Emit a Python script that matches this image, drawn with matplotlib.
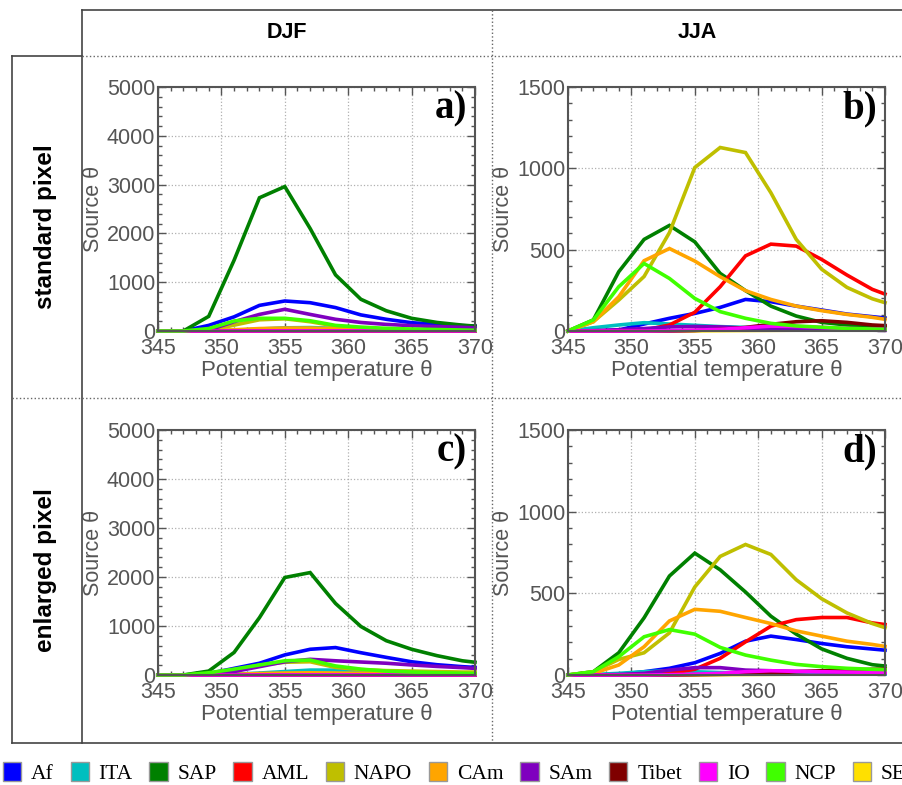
import matplotlib
matplotlib.use("Agg")
import matplotlib.pyplot as plt
from matplotlib.lines import Line2D
from matplotlib.patches import Patch
from matplotlib.ticker import MultipleLocator

# potential temperature grid (K)
theta = [345, 347, 349, 351, 353, 355, 357, 359, 361, 363, 365, 367, 369, 370]

regions = ["Af", "ITA", "SAP", "AML", "NAPO", "CAm", "SAm", "Tibet", "IO", "NCP", "SEP"]
colors = ["#0000ff", "#00bfbf", "#008000", "#ff0000", "#bfbf00", "#ffa500",
          "#7f00bf", "#7f0000", "#ff00ff", "#40ff00", "#ffe000"]

# a) DJF, standard pixel
djf_std = {
    "Af":    [0, 0, 115, 290, 525, 615, 580, 480, 330, 240, 170, 135, 110, 100],
    "ITA":   [0, 0, 5, 15, 40, 65, 70, 55, 40, 30, 20, 15, 10, 8],
    "SAP":   [0, 0, 300, 1450, 2730, 2960, 2100, 1150, 650, 415, 260, 175, 120, 100],
    "AML":   [0, 0, 0, 0, 3, 5, 8, 10, 10, 10, 8, 6, 5, 4],
    "NAPO":  [0, 0, 10, 120, 230, 250, 190, 100, 60, 40, 30, 20, 15, 12],
    "CAm":   [0, 0, 5, 25, 50, 60, 60, 45, 30, 20, 15, 10, 8, 6],
    "SAm":   [0, 0, 20, 190, 340, 445, 340, 240, 175, 135, 110, 90, 75, 65],
    "Tibet": [0, 0, 0, 0, 0, 0, 0, 0, 0, 0, 0, 0, 0, 0],
    "IO":    [0, 0, 0, 0, 0, 1, 2, 2, 2, 2, 1, 1, 1, 1],
    "NCP":   [0, 0, 50, 205, 260, 260, 210, 115, 80, 55, 40, 30, 20, 15],
    "SEP":   [0, 0, 0, 0, 0, 0, 0, 0, 0, 0, 0, 0, 0, 0],
}

# b) JJA, standard pixel
jja_std = {
    "Af":    [0, 0, 6, 43, 78, 108, 145, 194, 180, 153, 129, 104, 88, 80],
    "ITA":   [0, 20, 37, 51, 43, 35, 27, 22, 18, 15, 12, 10, 8, 7],
    "SAP":   [0, 68, 364, 563, 649, 548, 354, 248, 153, 92, 53, 37, 27, 25],
    "AML":   [0, 0, 0, 5, 37, 115, 272, 462, 534, 522, 440, 344, 256, 227],
    "NAPO":  [0, 57, 190, 335, 605, 1005, 1128, 1097, 850, 563, 380, 268, 198, 174],
    "CAm":   [0, 57, 210, 432, 507, 430, 334, 248, 194, 153, 125, 102, 84, 72],
    "SAm":   [0, 2, 8, 15, 25, 28, 25, 18, 12, 10, 8, 6, 5, 4],
    "Tibet": [0, 0, 0, 0, 0, 3, 10, 22, 41, 57, 63, 53, 37, 33],
    "IO":    [0, 0, 0, 0, 2, 5, 10, 20, 30, 28, 22, 16, 12, 10],
    "NCP":   [0, 68, 272, 415, 323, 200, 119, 78, 47, 31, 23, 16, 12, 10],
    "SEP":   [0, 0, 0, 0, 0, 1, 2, 3, 4, 5, 5, 5, 5, 5],
}

# c) DJF, enlarged pixel
djf_enl = {
    "Af":    [0, 0, 30, 135, 240, 410, 525, 560, 455, 360, 270, 210, 170, 155],
    "ITA":   [0, 0, 5, 15, 40, 70, 100, 100, 70, 50, 35, 25, 20, 15],
    "SAP":   [0, 0, 80, 460, 1170, 1990, 2090, 1460, 990, 700, 525, 395, 290, 260],
    "AML":   [0, 0, 0, 0, 2, 4, 5, 5, 5, 5, 4, 4, 3, 3],
    "NAPO":  [0, 0, 20, 100, 200, 260, 270, 155, 110, 90, 80, 70, 60, 60],
    "CAm":   [0, 0, 5, 15, 30, 40, 45, 40, 35, 30, 25, 20, 15, 12],
    "SAm":   [0, 0, 10, 70, 170, 270, 320, 290, 265, 240, 205, 175, 150, 135],
    "Tibet": [0, 0, 0, 0, 0, 0, 0, 0, 0, 0, 0, 0, 0, 0],
    "IO":    [0, 0, 0, 0, 0, 1, 1, 1, 1, 1, 1, 1, 1, 1],
    "NCP":   [0, 0, 45, 120, 205, 290, 305, 185, 120, 80, 60, 45, 35, 30],
    "SEP":   [0, 0, 0, 0, 0, 0, 0, 0, 0, 0, 0, 0, 0, 0],
}

# d) JJA, enlarged pixel
jja_enl = {
    "Af":    [0, 0, 4, 20, 41, 75, 132, 207, 238, 217, 193, 173, 159, 152],
    "ITA":   [0, 3, 10, 20, 26, 20, 15, 12, 10, 8, 7, 6, 5, 5],
    "SAP":   [0, 20, 136, 350, 606, 746, 644, 508, 360, 250, 160, 102, 63, 55],
    "AML":   [0, 0, 0, 4, 10, 35, 102, 203, 299, 339, 352, 352, 319, 309],
    "NAPO":  [0, 20, 95, 136, 258, 539, 726, 799, 738, 583, 467, 380, 315, 290],
    "CAm":   [0, 10, 61, 173, 331, 402, 390, 352, 315, 270, 238, 207, 187, 175],
    "SAm":   [0, 0, 3, 10, 30, 45, 45, 30, 26, 22, 20, 18, 15, 13],
    "Tibet": [0, 0, 0, 0, 0, 2, 4, 6, 10, 20, 26, 30, 35, 37],
    "IO":    [0, 0, 0, 0, 2, 5, 10, 20, 26, 22, 20, 18, 16, 15],
    "NCP":   [0, 20, 112, 234, 278, 250, 169, 122, 91, 65, 51, 41, 35, 33],
    "SEP":   [0, 0, 0, 0, 0, 1, 2, 3, 4, 5, 5, 5, 5, 5],
}

W, H = 902, 785
grey = "#555555"
sans = "Liberation Sans"
serif = "Liberation Serif"

fig = plt.figure(figsize=(W / 100, H / 100), dpi=100)


def px_axes(x0, y0, x1, y1):
    # pixel box (top-left origin) -> figure fraction
    return fig.add_axes([x0 / W, 1 - y1 / H, (x1 - x0) / W, (y1 - y0) / H])


def draw_panel(ax, data, ymax, ymajor, yminor, letter):
    for i, (name, c) in enumerate(zip(regions, colors)):
        # SEP sits at zero almost everywhere, keep it underneath
        z = 1.5 if name == "SEP" else 2 + i * 0.01
        ax.plot(theta, data[name], color=c, lw=2.6, clip_on=False,
                solid_joinstyle="miter", zorder=z)
    ax.set_xlim(345, 370)
    ax.set_ylim(0, ymax)
    ax.xaxis.set_major_locator(MultipleLocator(5))
    ax.xaxis.set_minor_locator(MultipleLocator(1))
    ax.yaxis.set_major_locator(MultipleLocator(ymajor))
    ax.yaxis.set_minor_locator(MultipleLocator(yminor))
    ax.tick_params(which="both", direction="in", top=True, right=True,
                   colors=grey, labelcolor=grey, width=1.0)
    ax.tick_params(which="major", length=6, labelsize=15.5)
    ax.tick_params(axis="x", which="major", pad=5)
    ax.tick_params(axis="y", which="major", pad=2)
    ax.tick_params(which="minor", length=3)
    for lab in ax.get_xticklabels() + ax.get_yticklabels():
        lab.set_fontfamily(sans)
    ax.grid(which="major", color="#b0b0b0", linestyle=":", linewidth=0.9)
    for sp in ax.spines.values():
        sp.set_color(grey)
        sp.set_linewidth(1.5)
    ax.set_xlabel("Potential temperature θ", fontsize=16, color=grey,
                  family=sans, labelpad=1)
    ax.set_ylabel("Source θ", fontsize=15.5, color=grey, family=sans, labelpad=2)
    ax.text(0.975, 0.985, letter, transform=ax.transAxes, ha="right", va="top",
            fontsize=28, fontweight="bold", family=serif, color="black")


ax_a = px_axes(158, 87, 475, 331)
ax_b = px_axes(568, 87, 885, 331)
ax_c = px_axes(158, 430, 475, 675)
ax_d = px_axes(568, 430, 885, 675)

draw_panel(ax_a, djf_std, 5000, 1000, 200, "a)")
draw_panel(ax_b, jja_std, 1500, 500, 100, "b)")
draw_panel(ax_c, djf_enl, 5000, 1000, 200, "c)")
draw_panel(ax_d, jja_enl, 1500, 500, 100, "d)")


# table frame around the panels
def frame_line(x0, y0, x1, y1, ls="-"):
    fig.add_artist(Line2D([x0 / W, x1 / W], [1 - y0 / H, 1 - y1 / H],
                          color="#444444" if ls == "-" else "#666666",
                          lw=1.2 if ls == "-" else 1.0, linestyle=ls))


frame_line(82, 10, W, 10)
frame_line(82, 10, 82, 743)
frame_line(12, 56, 82, 56)
frame_line(82, 56, W, 56, ":")
frame_line(12, 56, 12, 743)
frame_line(12, 743, W, 743)
frame_line(492, 10, 492, 743, ":")
frame_line(12, 398, W, 398, ":")

fig.text(287 / W, 1 - 33 / H, "DJF", ha="center", va="center", fontsize=15.5,
         fontweight="bold", family=sans)
fig.text(697 / W, 1 - 33 / H, "JJA", ha="center", va="center", fontsize=15.5,
         fontweight="bold", family=sans)
fig.text(46 / W, 1 - 227 / H, "standard pixel", ha="center", va="center",
         rotation=90, fontsize=17.5, fontweight="bold", family=sans)
fig.text(46 / W, 1 - 570 / H, "enlarged pixel", ha="center", va="center",
         rotation=90, fontsize=17.5, fontweight="bold", family=sans)

handles = [Patch(facecolor=c, edgecolor="#999999", linewidth=1.0) for c in colors]
fig.legend(handles, regions, loc="center left", bbox_to_anchor=(3 / W, 1 - 773 / H),
           ncol=len(regions), frameon=False, borderpad=0, borderaxespad=0,
           handlelength=0.85, handleheight=1.0, handletextpad=0.45,
           columnspacing=0.78, prop={"family": serif, "size": 15.5})

fig.savefig("out.png", dpi=100)
